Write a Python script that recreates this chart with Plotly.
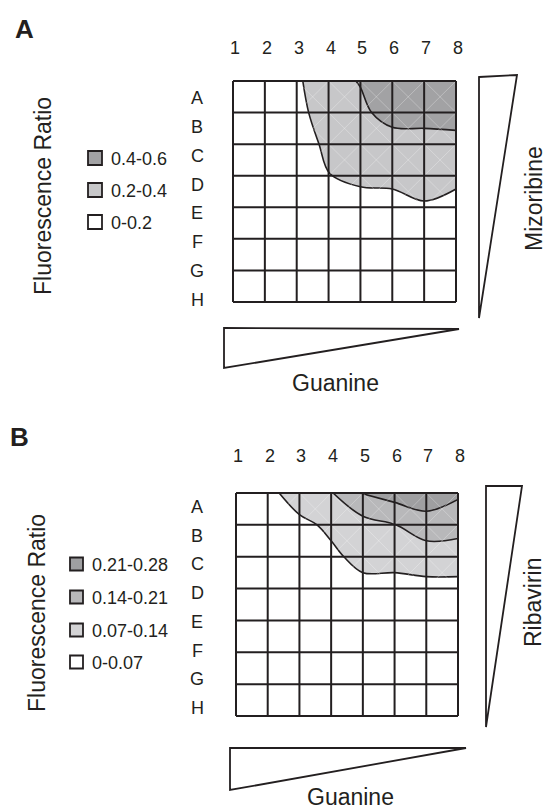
import plotly.graph_objects as go

W, H = 547, 809
FONT = "Liberation Sans, Arial, sans-serif"
INK = "#231f20"

# ---------------- data ----------------
columns = ["1", "2", "3", "4", "5", "6", "7", "8"]
rows = ["A", "B", "C", "D", "E", "F", "G", "H"]

# Panel A: fluorescence ratio, guanine (columns) x mizoribine (rows)
mizoribine_ratio = [
    [0.05, 0.08, 0.16, 0.37, 0.405, 0.50, 0.55, 0.58],
    [0.05, 0.07, 0.14, 0.30, 0.38, 0.437, 0.44, 0.44],
    [0.05, 0.08, 0.13, 0.23, 0.30, 0.358, 0.36, 0.369],
    [0.04, 0.06, 0.10, 0.195, 0.26, 0.28, 0.30, 0.28],
    [0.03, 0.04, 0.06, 0.08, 0.089, 0.09, 0.175, 0.09],
    [0.02, 0.03, 0.04, 0.05, 0.06, 0.06, 0.07, 0.06],
    [0.02, 0.02, 0.03, 0.04, 0.04, 0.05, 0.05, 0.05],
    [0.01, 0.02, 0.02, 0.03, 0.03, 0.04, 0.04, 0.04],
]
levels_a = [0.2, 0.4]
legend_a = ["0.4-0.6", "0.2-0.4", "0-0.2"]
colors_a = ["#ffffff", "#c7c7c9", "#a2a2a4"]  # low -> high

# Panel B: fluorescence ratio, guanine (columns) x ribavirin (rows)
ribavirin_ratio = [
    [0.01, 0.04, 0.123, 0.135, 0.218, 0.24, 0.25, 0.22],
    [0.01, 0.02, 0.045, 0.09, 0.111, 0.138, 0.18, 0.17],
    [0.01, 0.02, 0.03, 0.05, 0.10, 0.10, 0.10, 0.10],
    [0.01, 0.01, 0.02, 0.03, 0.04, 0.04, 0.052, 0.052],
    [0.01, 0.01, 0.01, 0.02, 0.02, 0.03, 0.03, 0.03],
    [0.00, 0.01, 0.01, 0.01, 0.02, 0.02, 0.02, 0.02],
    [0.00, 0.00, 0.01, 0.01, 0.01, 0.01, 0.02, 0.02],
    [0.00, 0.00, 0.00, 0.01, 0.01, 0.01, 0.01, 0.01],
]
levels_b = [0.07, 0.14, 0.21]
legend_b = ["0.21-0.28", "0.14-0.21", "0.07-0.14", "0-0.07"]
colors_b = ["#ffffff", "#d3d3d5", "#b8b8ba", "#9f9fa1"]


def px(x):
    return x / W


def py(y):
    return 1 - y / H


panels = [
    dict(key="", z=mizoribine_ratio, levels=levels_a, colors=colors_a,
         legend=legend_a, letter="A", drug="Mizoribine",
         grid=(233, 456, 81, 302), num_y=48, row_x=197, row_y=(98, 300),
         leg_sq_x=88, leg_text_x=109, leg_y=[158, 190, 222], leg_sq=14,
         letter_xy=(24, 29), fr_xy=(43, 196), drug_xy=(534, 199),
         guan_xy=(335, 383),
         tri_right=[(479, 77), (517, 75), (479, 318)],
         tri_bottom=[(224, 328), (459, 329), (224, 368)]),
    dict(key="2", z=ribavirin_ratio, levels=levels_b, colors=colors_b,
         legend=legend_b, letter="B", drug="Ribavirin",
         grid=(236, 458, 493, 716), num_y=456, row_x=197, row_y=(507, 708),
         leg_sq_x=70, leg_text_x=90, leg_y=[564, 597, 630, 662], leg_sq=13,
         letter_xy=(19, 437), fr_xy=(37, 613), drug_xy=(533, 603),
         guan_xy=(350, 797),
         tri_right=[(486, 486), (522, 486), (486, 727)],
         tri_bottom=[(230, 748), (466, 748), (230, 790)]),
]

fig = go.Figure()
annotations = []
shapes = []
layout_axes = {}
PAD = 0.08
ncol, nrow = len(columns), len(rows)
xs = list(range(ncol))
ys = list(range(nrow))

for p in panels:
    xa, ya = "x" + p["key"], "y" + p["key"]
    x0, x1, y0, y1 = p["grid"]
    ux = (x1 - x0) / (ncol - 1)
    uy = (y1 - y0) / (nrow - 1)
    layout_axes["xaxis" + p["key"]] = dict(
        domain=[px(x0 - PAD * ux), px(x1 + PAD * ux)],
        range=[-PAD, ncol - 1 + PAD], visible=False, anchor=ya)
    layout_axes["yaxis" + p["key"]] = dict(
        domain=[py(y1 + PAD * uy), py(y0 - PAD * uy)],
        range=[nrow - 1 + PAD, -PAD], visible=False, anchor=xa)

    lv = p["levels"]
    step = lv[1] - lv[0]
    cols = p["colors"]
    cscale = [[i / (len(cols) - 1), c] for i, c in enumerate(cols)]
    # filled bands
    fig.add_trace(go.Contour(
        x=xs, y=ys, z=p["z"], xaxis=xa, yaxis=ya,
        contours=dict(start=lv[0], end=lv[-1] + step * 0.01, size=step,
                      coloring="fill", showlines=False),
        colorscale=cscale, showscale=False, line=dict(width=0),
        hoverinfo="skip"))
    # faint triangulation diagonals
    dx, dy = [], []
    for i in range(ncol - 1):
        for j in range(nrow - 1):
            dx += [i, i + 1, None, i + 1, i, None]
            dy += [j, j + 1, None, j, j + 1, None]
    fig.add_trace(go.Scatter(
        x=dx, y=dy, xaxis=xa, yaxis=ya, mode="lines",
        line=dict(color="rgba(255,255,255,0.35)", width=0.8),
        hoverinfo="skip", showlegend=False))
    # contour lines
    fig.add_trace(go.Contour(
        x=xs, y=ys, z=p["z"], xaxis=xa, yaxis=ya,
        contours=dict(start=lv[0], end=lv[-1] + step * 0.01, size=step,
                      coloring="none"),
        line=dict(color=INK, width=1.6), showscale=False,
        hoverinfo="skip"))
    # grid
    gx, gy = [], []
    for i in xs:
        gx += [i, i, None]
        gy += [0, nrow - 1, None]
    for j in ys:
        gx += [0, ncol - 1, None]
        gy += [j, j, None]
    fig.add_trace(go.Scatter(
        x=gx, y=gy, xaxis=xa, yaxis=ya, mode="lines",
        line=dict(color=INK, width=2), hoverinfo="skip", showlegend=False))

    # column labels
    for i, c in enumerate(columns):
        annotations.append(dict(
            x=i, y=py(p["num_y"]), xref=xa, yref="paper", text=c,
            showarrow=False, xanchor="center", yanchor="middle", xshift=2,
            font=dict(family=FONT, size=18, color=INK)))
    # row labels
    r0, r1 = p["row_y"]
    for j, r in enumerate(rows):
        yy = r0 + (r1 - r0) * j / (nrow - 1)
        annotations.append(dict(
            x=px(p["row_x"]), y=py(yy), xref="paper", yref="paper", text=r,
            showarrow=False, xanchor="center", yanchor="middle",
            font=dict(family=FONT, size=18, color=INK)))
    # legend
    n = len(p["legend"])
    s = p["leg_sq"]
    for k, lab in enumerate(p["legend"]):
        cy = p["leg_y"][k]
        col = cols[n - 1 - k]
        shapes.append(dict(
            type="rect", xref="paper", yref="paper",
            x0=px(p["leg_sq_x"]), x1=px(p["leg_sq_x"] + s),
            y0=py(cy + s / 2), y1=py(cy - s / 2),
            fillcolor=col, line=dict(color=INK, width=1.8)))
        annotations.append(dict(
            x=px(p["leg_text_x"]), y=py(cy + 1), xref="paper", yref="paper",
            text=lab, showarrow=False, xanchor="left", yanchor="middle",
            font=dict(family=FONT, size=18, color=INK)))
    # panel letter
    annotations.append(dict(
        x=px(p["letter_xy"][0]), y=py(p["letter_xy"][1]), xref="paper",
        yref="paper", text="<b>%s</b>" % p["letter"], showarrow=False,
        xanchor="center", yanchor="middle",
        font=dict(family=FONT, size=26, color=INK)))
    # axis titles
    annotations.append(dict(
        x=px(p["fr_xy"][0]), y=py(p["fr_xy"][1]), xref="paper", yref="paper",
        text="Fluorescence Ratio", textangle=-90, showarrow=False,
        xanchor="center", yanchor="middle",
        font=dict(family=FONT, size=23, color=INK)))
    annotations.append(dict(
        x=px(p["drug_xy"][0]), y=py(p["drug_xy"][1]), xref="paper",
        yref="paper", text=p["drug"], textangle=-90, showarrow=False,
        xanchor="center", yanchor="middle",
        font=dict(family=FONT, size=23, color=INK)))
    annotations.append(dict(
        x=px(p["guan_xy"][0]), y=py(p["guan_xy"][1]), xref="paper",
        yref="paper", text="Guanine", showarrow=False,
        xanchor="center", yanchor="middle",
        font=dict(family=FONT, size=23, color=INK)))
    # concentration wedges
    for tri in (p["tri_right"], p["tri_bottom"]):
        path = "M " + " L ".join("%f,%f" % (px(a), py(b)) for a, b in tri) + " Z"
        shapes.append(dict(type="path", xref="paper", yref="paper", path=path,
                           fillcolor="white", line=dict(color=INK, width=1.8)))

fig.update_layout(
    width=W, height=H, margin=dict(l=0, r=0, t=0, b=0),
    paper_bgcolor="white", plot_bgcolor="white", showlegend=False,
    annotations=annotations, shapes=shapes, **layout_axes)

fig.write_html(
    "out.html",
    config={"displayModeBar": False},
    post_script="document.body.style.margin='0';"
                "document.body.style.overflow='hidden';")
